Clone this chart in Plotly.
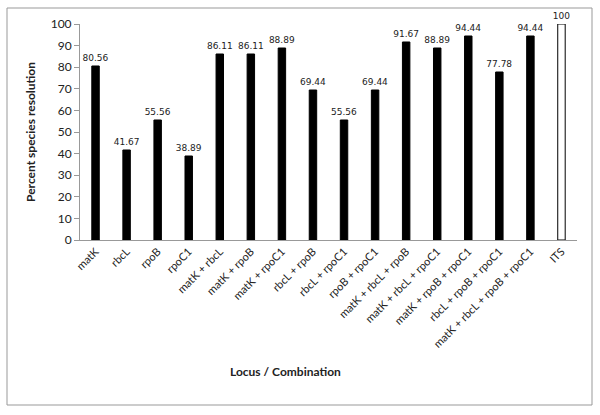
import plotly.graph_objects as go

categories = ["matK", "rbcL", "rpoB", "rpoC1", "matK + rbcL", "matK + rpoB",
              "matK + rpoC1", "rbcL + rpoB", "rbcL + rpoC1", "rpoB + rpoC1",
              "matK + rbcL + rpoB", "matK + rbcL + rpoC1", "matK + rpoB + rpoC1",
              "rbcL + rpoB + rpoC1", "matK + rbcL + rpoB + rpoC1", "ITS"]
values = [80.56, 41.67, 55.56, 38.89, 86.11, 86.11, 88.89, 69.44, 55.56, 69.44,
          91.67, 88.89, 94.44, 77.78, 94.44, 100]
value_labels = ["80.56", "41.67", "55.56", "38.89", "86.11", "86.11", "88.89", "69.44",
                "55.56", "69.44", "91.67", "88.89", "94.44", "77.78", "94.44", "100"]
y_ticks = [0, 10, 20, 30, 40, 50, 60, 70, 80, 90, 100]

fill_colors = ["black"] * (len(categories) - 1) + ["white"]

fig = go.Figure(go.Bar(
    x=categories, y=values,
    text=value_labels, textposition="outside", constraintext="none",
    outsidetextfont=dict(family="DejaVu Sans", size=9, color="#222"),
    marker=dict(color=fill_colors, line=dict(color="black", width=1)),
    width=0.24, cliponaxis=False,
))

fig.update_layout(
    width=600, height=415,
    margin=dict(l=80, r=23, t=24, b=175, autoexpand=False),
    plot_bgcolor="white", paper_bgcolor="white",
    showlegend=False,
    font=dict(family="Lato", size=11, color="#222"),
    xaxis=dict(tickangle=-45, showline=True, linecolor="#999", linewidth=1,
               ticks="", showgrid=False, automargin=False,
               tickfont=dict(family="Lato", size=11, color="#222")),
    yaxis=dict(range=[0, 100], tickvals=y_ticks, showline=True, linecolor="#999",
               linewidth=1, ticks="outside", ticklen=5, tickcolor="#999",
               showgrid=False, automargin=False,
               tickfont=dict(family="Lato", size=12, color="#222"),
               title=dict(text="<b>Percent species resolution</b>",
                          font=dict(family="Lato", size=12), standoff=12)),
    annotations=[dict(text="<b>Locus / Combination</b>", xref="paper", yref="paper",
                      x=(285 - 80) / 497, y=(240 - 381) / 216, showarrow=False,
                      font=dict(family="Lato", size=12, color="#222"))],
    shapes=[dict(type="rect", xref="paper", yref="paper",
                 x0=(7 - 80) / 497, x1=(592 - 80) / 497,
                 y0=(240 - 405) / 216, y1=(240 - 8) / 216,
                 line=dict(color="#999", width=1))],
)

fig.write_html("out.html", config={"displayModeBar": False},
               post_script="document.body.style.margin='0';")
